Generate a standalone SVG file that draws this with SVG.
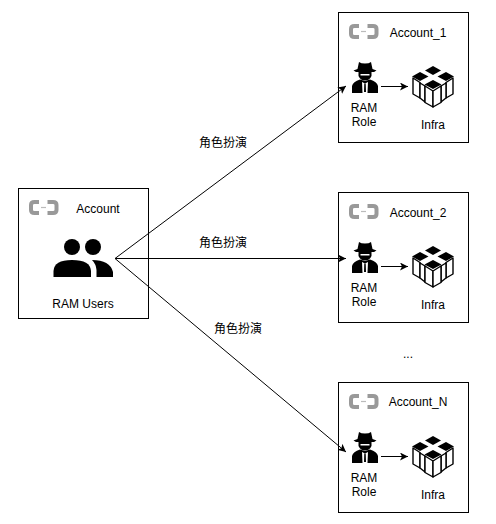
<svg xmlns="http://www.w3.org/2000/svg" xmlns:xlink="http://www.w3.org/1999/xlink" width="496" height="524" viewBox="0 0 496 524">
<style>
text{font-family:"Liberation Sans","Noto Sans CJK SC",sans-serif;font-size:12px;fill:#000;text-anchor:middle}
.box{fill:#fff;stroke:#000;stroke-width:1}
.c{fill:none;stroke:#000;stroke-width:1}
</style>
<defs>
<marker id="a" markerWidth="10" markerHeight="8" refX="8" refY="4" orient="auto" markerUnits="userSpaceOnUse"><path d="M0 0L8 4L0 8L2 4Z" fill="#000"/></marker>
<g id="logo"><path d="M10 3H5.500Q2 3 2 6V11Q2 14 5.500 14H10M18.500 3H24Q27.500 3 27.500 6V11Q27.500 14 24 14H18.500" fill="none" stroke="#999" stroke-width="4"/><path d="M12 8.500H17" stroke="#bbb" stroke-width="1.200"/></g>
<g id="spy"><path d="M7 0Q9 1.500 13 1.500Q17 1.500 19 0L20.500 7L24.500 8.500L22 10H4L1.500 8.500L5.500 7Z" fill="#000"/><path d="M6.500 10H19.500V14Q17.500 18.500 13 18.500Q8.500 18.500 6.500 14Z" fill="#000"/><path d="M8.500 12H17.500V13.500H8.500Z" fill="#fff"/><path d="M0 31V24Q1 19.500 8 17.500L13 19L18 17.500Q25 19.500 26 24V31Z" fill="#000"/><path d="M10 20L13 21.500L16 20L15.500 31H10.500Z" fill="#fff"/><path d="M12.300 21.500H13.700L14 30H12Z" fill="#000"/></g>
<g id="infra" fill="#fff" stroke="#000" stroke-width="1.400" stroke-linejoin="round"><path d="M1 12L8 16.500V32L1 28Z"/><path d="M41 12L34 16.500V32L41 28Z"/><path d="M8 17L13 20V36L8 32Z"/><path d="M34 17L29 20V36L34 32Z"/><path d="M13 20L21 25V41L13 36.500Z"/><path d="M29 20L21 25V41L29 36.500Z"/><g fill="#000" stroke="none"><path d="M21 0L29 4.500L21 9L13 4.500Z"/><path d="M8 6L16.500 10.500L8 15L0 10.500Z"/><path d="M34 6L42 10.500L34 15L25.500 10.500Z"/><path d="M21 14L29.500 18.500L21 23L12.500 18.500Z"/></g></g>
</defs>
<g id="root"><rect class="box" x="18.500" y="188.500" width="130" height="130"/><use xlink:href="#logo" x="29" y="199"/><text x="98" y="213">Account</text>
<path d="M53.500 277V271Q54 260 72 260Q90.500 260 91 271V277Z" fill="#000"/><path d="M92 260Q110 260 113 272V277H96.500V270Q96 264 92 260Z" fill="#000"/><circle cx="72" cy="247" r="8"/><circle cx="93" cy="247" r="8"/><text x="83" y="308">RAM Users</text></g>
<g id="account1"><rect class="box" x="338.500" y="12.500" width="130" height="130"/><use xlink:href="#logo" x="349" y="23"/><text x="418" y="37">Account_1</text><use xlink:href="#spy" x="352" y="62"/><use xlink:href="#infra" x="412" y="66"/><text x="364" y="112">RAM</text><text x="364" y="126">Role</text><text x="433" y="129">Infra</text></g>
<g id="account2"><rect class="box" x="338.500" y="192.500" width="130" height="130"/><use xlink:href="#logo" x="349" y="203"/><text x="418" y="217">Account_2</text><use xlink:href="#spy" x="352" y="242"/><use xlink:href="#infra" x="412" y="246"/><text x="364" y="292">RAM</text><text x="364" y="306">Role</text><text x="433" y="309">Infra</text></g>
<g id="accountN"><rect class="box" x="338.500" y="382.500" width="130" height="130"/><use xlink:href="#logo" x="349" y="393"/><text x="418" y="406">Account_N</text><use xlink:href="#spy" x="352" y="432"/><use xlink:href="#infra" x="412" y="436"/><text x="364" y="482">RAM</text><text x="364" y="496">Role</text><text x="433" y="499">Infra</text></g>
<g id="connectors">
<path class="c" d="M115 258.500L346 86" marker-end="url(#a)"/>
<path class="c" d="M115 258.500H346" marker-end="url(#a)"/>
<path class="c" d="M115 258.500L346 452" marker-end="url(#a)"/>
<path class="c" d="M381 86.500H408" marker-end="url(#a)"/>
<path class="c" d="M381 266.500H408" marker-end="url(#a)"/>
<path class="c" d="M381 456.500H408" marker-end="url(#a)"/>
</g>
<g id="labels"><text x="223" y="147">角色扮演</text><text x="223" y="247">角色扮演</text><text x="238" y="333">角色扮演</text><text x="408" y="358">...</text></g>
</svg>
